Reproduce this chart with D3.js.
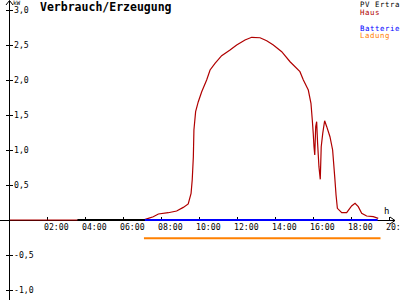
<!DOCTYPE html>
<html>
<head>
<meta charset="utf-8">
<script src="https://cdn.jsdelivr.net/npm/d3@7"></script>
<style>
  body { margin: 0; background: #fff; }
  svg { display: block; font-family: "DejaVu Sans Mono", monospace; }
</style>
</head>
<body>
<div id="chart"></div>
<script>
// time in hours, power in kW
const hausT = [0, 7.0, 7.28, 7.54, 7.81, 8.33, 8.77, 9.12, 9.38, 9.53, 9.59, 9.65, 9.68, 9.77, 9.91, 10.09, 10.35, 10.53, 10.79, 11.14, 11.58, 11.93, 12.37, 12.72, 13.16, 13.51, 13.86, 14.3, 14.74, 15.26, 15.44, 15.7, 15.84, 15.91, 15.96, 16.0, 16.04, 16.09, 16.14, 16.19, 16.26, 16.33, 16.38, 16.46, 16.56, 16.67, 16.84, 16.98, 17.09, 17.16, 17.23, 17.46, 17.72, 17.98, 18.16, 18.33, 18.51, 18.77, 19.12, 19.38];
const hausKW = [0, 0, 0.024, 0.047, 0.086, 0.104, 0.129, 0.18, 0.229, 0.381, 0.571, 0.904, 1.286, 1.547, 1.69, 1.833, 2.0, 2.143, 2.238, 2.347, 2.429, 2.5, 2.571, 2.61, 2.604, 2.561, 2.5, 2.404, 2.261, 2.119, 2.0, 1.857, 1.667, 1.429, 1.238, 1.047, 0.929, 1.333, 1.404, 1.095, 0.762, 0.581, 1.047, 1.238, 1.418, 1.333, 1.19, 1.0, 0.619, 0.357, 0.167, 0.104, 0.104, 0.2, 0.238, 0.19, 0.095, 0.057, 0.047, 0.024];
const pvT = [3.55, 7.1];
const pvKW = [0, 0];
const batT = [7.1, 19.35];
const batKW = [0, 0];
const ladT = [7.05, 19.5];
const ladKW = [-0.26, -0.26];

const xTicks = [2, 4, 6, 8, 10, 12, 14, 16, 18, 20];
const xTickLabels = ["02:00", "04:00", "06:00", "08:00", "10:00", "12:00", "14:00", "16:00", "18:00", "20:00"];
const yTicks = [3, 2.5, 2, 1.5, 1, 0.5, -0.5, -1];
const yTickLabels = ["3,0", "2,5", "2,0", "1,5", "1,0", "0,5", "-0,5", "-1,0"];

const legendNames = ["PV Ertrag", "Haus", "Batterie", "Ladung"];
const legendColors = ["#000000", "#b00000", "#0000ff", "#ff8000"];

const width = 400, height = 300;
const svg = d3.select("#chart").append("svg")
  .attr("width", width)
  .attr("height", height);

const x = d3.scaleLinear().domain([0, 20]).range([10, 390]);
const y = d3.scaleLinear().domain([-1, 3]).range([290, 10]);

// axes
svg.append("line")
  .attr("x1", 0).attr("x2", 395)
  .attr("y1", y(0) + 0.5).attr("y2", y(0) + 0.5)
  .attr("stroke", "#000").attr("stroke-width", 1);
svg.append("path")
  .attr("d", `M390,${y(0) - 3} L395,${y(0) + 0.5} L390,${y(0) + 4}`)
  .attr("fill", "none").attr("stroke", "#000");
svg.append("line")
  .attr("x1", x(0) - 0.5).attr("x2", x(0) - 0.5)
  .attr("y1", 1).attr("y2", 300)
  .attr("stroke", "#000").attr("stroke-width", 1);
svg.append("path")
  .attr("d", `M${x(0) - 4},5 L${x(0) - 0.5},0.5 L${x(0) + 3},5`)
  .attr("fill", "none").attr("stroke", "#000");

svg.selectAll(".xt").data(xTicks).join("line")
  .attr("x1", d => Math.round(x(d)) - 0.5).attr("x2", d => Math.round(x(d)) - 0.5)
  .attr("y1", y(0) - 3).attr("y2", y(0) + 1)
  .attr("stroke", "#000");
svg.selectAll(".xl").data(xTicks).join("text")
  .attr("x", d => x(d) - 4)
  .attr("y", y(0) + 9.5)
  .attr("font-size", 8.2)
  .text((d, i) => xTickLabels[i]);

svg.selectAll(".yt").data(yTicks).join("line")
  .attr("x1", x(0) - 4).attr("x2", x(0) + 3)
  .attr("y1", d => Math.round(y(d)) + 0.5).attr("y2", d => Math.round(y(d)) + 0.5)
  .attr("stroke", "#000");
svg.selectAll(".yl").data(yTicks).join("text")
  .attr("x", 14)
  .attr("y", d => y(d) + 3)
  .attr("font-size", 8.2)
  .text((d, i) => yTickLabels[i]);

svg.append("text").attr("x", 13).attr("y", 4.5).attr("font-size", 6).text("kW");
svg.append("text").attr("x", 384).attr("y", 214).attr("font-size", 9).text("h");

// title
svg.append("text")
  .attr("x", 40).attr("y", 11)
  .attr("font-size", 11.5).attr("font-weight", "bold")
  .text("Verbrauch/Erzeugung");

// legend
const legendY = [7, 15, 30.5, 38];
svg.selectAll(".lg").data(legendNames).join("text")
  .attr("x", 360)
  .attr("y", (d, i) => legendY[i])
  .attr("font-size", 7.4)
  .attr("letter-spacing", 0.55)
  .attr("fill", (d, i) => legendColors[i])
  .text(d => d);

// series
const line = d3.line().x(d => x(d[0])).y(d => y(d[1]));
function series(ts, vs, color, w) {
  svg.append("path")
    .datum(ts.map((t, i) => [t, vs[i]]))
    .attr("d", line)
    .attr("fill", "none")
    .attr("stroke", color)
    .attr("stroke-width", w);
}
series(hausT, hausKW, "#b00000", 1.2);
series(pvT, pvKW, "#000000", 2);
series(batT, batKW, "#0000ff", 2);
series(ladT, ladKW, "#ff8000", 2);
</script>
</body>
</html>
